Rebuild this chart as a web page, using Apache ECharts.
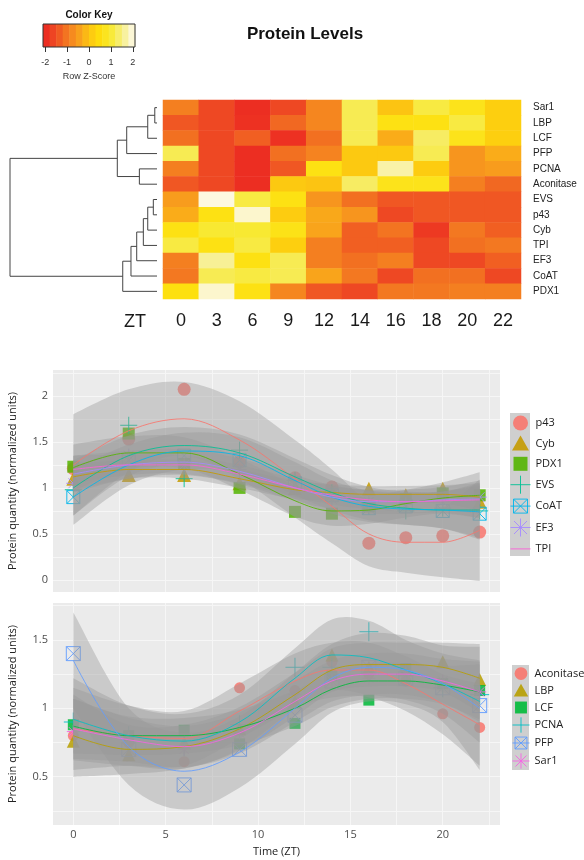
<!DOCTYPE html>
<html>
<head>
<meta charset="utf-8">
<title>Protein Levels</title>
<script src="https://cdn.jsdelivr.net/npm/echarts@6/dist/echarts.min.js"></script>
<style>
  html, body { margin: 0; padding: 0; background: #fff; }
  #chart { width: 584px; height: 860px; }
</style>
</head>
<body>
<div id="chart"></div>
<script>
// ---- heatmap data ----
const rows = ['Sar1', 'LBP', 'LCF', 'PFP', 'PCNA', 'Aconitase', 'EVS', 'p43', 'Cyb', 'TPI', 'EF3', 'CoAT', 'PDX1']
const zt = ['0', '3', '6', '9', '12', '14', '16', '18', '20', '22']
const zscores = [
  [-0.9, -1.6, -1.95, -1.6, -0.8, 1.2, 0.0, 1.1, 0.7, 0.2],
  [-1.4, -1.6, -1.9, -1.2, -0.8, 1.2, 0.6, 0.6, 1.1, 0.2],
  [-1.1, -1.6, -1.3, -1.9, -1.1, 1.2, -0.3, 1.3, 0.7, 0.2],
  [1.2, -1.6, -1.95, -1.1, -0.85, 0.1, 0.1, 1.2, -0.6, -0.3],
  [-0.9, -1.6, -1.95, -1.4, 0.6, 0.1, 1.7, 0.15, -0.6, -0.5],
  [-1.4, -1.6, -1.95, 0.1, 0.0, 1.3, 0.7, 0.7, -0.9, -1.2],
  [-0.5, 2.0, 1.1, 0.6, -0.6, -1.1, -1.4, -1.4, -1.4, -1.4],
  [-0.3, 0.6, 1.9, 0.15, -0.35, -0.6, -1.6, -1.4, -1.4, -1.4],
  [0.6, 1.0, 1.0, 0.65, -0.4, -1.3, -1.05, -1.8, -1.0, -1.3],
  [1.1, 0.6, 1.1, 0.2, -0.9, -1.3, -1.3, -1.6, -1.1, -1.0],
  [-0.9, 1.6, 0.6, 1.2, -0.9, -1.1, -0.9, -1.6, -1.6, -1.3],
  [-1.0, 1.2, 1.1, 1.2, -0.4, -1.0, -1.6, -1.1, -1.1, -1.6],
  [0.55, 1.9, 0.6, -0.8, -1.4, -1.6, -1.0, -1.0, -0.9, -0.9],
]
// row dendrogram: [left node, right node, height]; leaves are 0..12, merges get ids 13..
const dendroMerges = [
  [0, 1, 0.015], [13, 2, 0.063], [14, 3, 0.206], [4, 5, 0.12], [15, 16, 0.27],
  [6, 7, 0.025], [18, 8, 0.063], [19, 9, 0.093], [20, 10, 0.138], [21, 11, 0.177], [22, 12, 0.233],
  [17, 23, 1.0],
]
// colour key
const keyBreaks = [-2.1, -1.8, -1.5, -1.2, -0.9, -0.6, -0.3, 0, 0.3, 0.6, 0.9, 1.2, 1.5, 1.8, 2.1]
const keyTicks = [-2, -1, 0, 1, 2]

// ---- time course panels ----
const times = [0, 3, 6, 9, 12, 14, 16, 18, 20, 22]
const xGrid = [0, 2.5, 5, 7.5, 10, 12.5, 15, 17.5, 20, 22.5]
const xTickLabels = [0, 5, 10, 15, 20]
const y1Grid = [0, 0.25, 0.5, 0.75, 1, 1.25, 1.5, 1.75, 2, 2.25]
const y1TickLabels = [0, 0.5, 1, 1.5, 2]
const y2Grid = [0.25, 0.5, 0.75, 1, 1.25, 1.5, 1.75]
const y2TickLabels = [0.5, 1, 1.5]

const panel1Names = ['p43', 'Cyb', 'PDX1', 'EVS', 'CoAT', 'EF3', 'TPI']
const panel1Points = [
  [1.21, 1.53, 2.07, 1.28, 1.11, 1.01, 0.40, 0.46, 0.48, 0.52],
  [1.10, 1.14, 1.14, 1.05, 1.00, 0.96, 0.99, 0.92, 0.99, 0.85],
  [1.23, 1.59, 1.26, 1.00, 0.74, 0.72, 0.80, 0.88, 0.94, 0.92],
  [0.98, 1.68, 1.10, 1.41, 1.08, 0.95, 0.80, 0.75, 0.78, 0.75],
  [0.90, 1.30, 1.35, 1.30, 1.05, 0.92, 0.78, 0.80, 0.75, 0.72],
  [1.05, 1.35, 1.25, 1.20, 1.00, 0.88, 0.85, 0.82, 0.85, 0.90],
  [],
]
const panel1Fit = [
  [1.25, 1.62, 1.75, 1.52, 1.10, 0.80, 0.50, 0.41, 0.41, 0.54],
  [1.12, 1.20, 1.20, 1.10, 0.98, 0.95, 0.93, 0.93, 0.93, 0.90],
  [1.22, 1.38, 1.38, 1.15, 0.86, 0.75, 0.76, 0.83, 0.89, 0.92],
  [1.00, 1.35, 1.46, 1.38, 1.12, 0.95, 0.83, 0.78, 0.76, 0.76],
  [0.90, 1.25, 1.40, 1.35, 1.08, 0.90, 0.80, 0.77, 0.76, 0.74],
  [1.15, 1.25, 1.28, 1.18, 1.00, 0.90, 0.85, 0.85, 0.87, 0.88],
  [1.20, 1.25, 1.25, 1.15, 1.00, 0.92, 0.87, 0.85, 0.86, 0.87],
]
const panel1Se = [
  [0.55, 0.45, 0.40, 0.42, 0.42, 0.40, 0.35, 0.33, 0.38, 0.55],
  [0.15, 0.10, 0.10, 0.10, 0.10, 0.09, 0.09, 0.09, 0.10, 0.15],
  [0.25, 0.18, 0.17, 0.17, 0.17, 0.16, 0.15, 0.15, 0.17, 0.25],
  [0.30, 0.22, 0.20, 0.20, 0.20, 0.19, 0.18, 0.18, 0.20, 0.30],
  [0.30, 0.22, 0.20, 0.20, 0.20, 0.18, 0.17, 0.17, 0.20, 0.30],
  [0.20, 0.15, 0.14, 0.14, 0.14, 0.13, 0.13, 0.13, 0.14, 0.20],
  [0.15, 0.11, 0.10, 0.10, 0.10, 0.10, 0.10, 0.10, 0.10, 0.15],
]

const panel2Names = ['Aconitase', 'LBP', 'LCF', 'PCNA', 'PFP', 'Sar1']
const panel2Points = [
  [0.80, 0.75, 0.61, 1.15, 1.13, 1.34, 1.25, 1.20, 0.96, 0.86],
  [0.76, 0.66, 0.75, 0.85, 1.05, 1.39, 1.30, 1.28, 1.34, 1.21],
  [0.88, 0.80, 0.84, 0.74, 0.89, 1.24, 1.06, 1.29, 1.18, 1.13],
  [0.90, 0.80, 0.72, 0.88, 1.30, 1.30, 1.56, 1.25, 1.15, 1.10],
  [1.40, 0.70, 0.44, 0.70, 0.95, 1.20, 1.30, 1.22, 1.15, 1.02],
  [0.83, 0.78, 0.70, 0.82, 1.10, 1.20, 1.22, 1.25, 1.20, 1.12],
]
const panel2Fit = [
  [0.85, 0.80, 0.78, 0.98, 1.20, 1.28, 1.28, 1.18, 1.03, 0.88],
  [0.80, 0.70, 0.72, 0.85, 1.10, 1.28, 1.32, 1.32, 1.30, 1.22],
  [0.87, 0.80, 0.80, 0.86, 1.00, 1.14, 1.20, 1.20, 1.17, 1.12],
  [0.92, 0.80, 0.76, 0.90, 1.22, 1.39, 1.37, 1.28, 1.18, 1.05],
  [1.35, 0.72, 0.54, 0.68, 1.00, 1.22, 1.30, 1.28, 1.18, 1.00],
  [0.85, 0.77, 0.72, 0.82, 1.05, 1.20, 1.25, 1.25, 1.20, 1.12],
]
const panel2Se = [
  [0.30, 0.22, 0.20, 0.20, 0.20, 0.20, 0.20, 0.20, 0.22, 0.30],
  [0.30, 0.18, 0.16, 0.16, 0.16, 0.16, 0.16, 0.16, 0.18, 0.25],
  [0.20, 0.14, 0.13, 0.13, 0.13, 0.13, 0.13, 0.13, 0.14, 0.20],
  [0.30, 0.22, 0.20, 0.20, 0.22, 0.26, 0.27, 0.22, 0.22, 0.30],
  [0.35, 0.28, 0.28, 0.26, 0.26, 0.25, 0.25, 0.25, 0.28, 0.45],
  [0.22, 0.16, 0.15, 0.15, 0.15, 0.15, 0.15, 0.15, 0.16, 0.22],
]

// ---- styles ----
const heatPalette = ['#EC2A22', '#EF4F23', '#F37821', '#F89C1D', '#FCC412', '#FEDF0B', '#F8E932', '#F6EE84', '#FDF8DF']
const panel1Colors = ['#F8766D', '#C49A00', '#53B400', '#00C094', '#00B6EB', '#A58AFF', '#FB61D7']
const panel2Colors = ['#F8766D', '#B79F00', '#00BA38', '#00BFC4', '#619CFF', '#F564E3']
const panel1Shapes = ['circle', 'triangle', 'square', 'plus', 'squareX', 'asterisk', 'line']
const panel2Shapes = ['circle', 'triangle', 'square', 'plus', 'squareX', 'asterisk']
const FONT_HEAT = '"Liberation Sans", Arial, sans-serif'
const FONT_PLOT = '"Open Sans", sans-serif'
const PAD = 'path://M0,0M20,20'
const SHAPES = {
  circle: { symbol: 'circle', stroke: false, legend: PAD + 'M2.5,10A7.5,7.5,0,1,0,17.5,10A7.5,7.5,0,1,0,2.5,10Z' },
  triangle: { symbol: 'triangle', stroke: false, legend: PAD + 'M10,2L18.5,17L1.5,17Z' },
  square: { symbol: 'rect', stroke: false, legend: PAD + 'M3,3L17,3L17,17L3,17Z' },
  plus: { symbol: 'path://M5,0L5,10M0,5L10,5', stroke: true, legend: PAD + 'M0,10L20,10M10,1L10,19' },
  squareX: { symbol: 'path://M0,0L10,0L10,10L0,10ZM0,0L10,10M10,0L0,10', stroke: true, legend: PAD + 'M3,3L17,3L17,17L3,17ZM3,3L17,17M17,3L3,17M0,10L20,10' },
  asterisk: { symbol: 'path://M5,0L5,10M0,5L10,5M1.5,1.5L8.5,8.5M8.5,1.5L1.5,8.5', stroke: true, legend: PAD + 'M10,1L10,19M0,10L20,10M3.5,3.5L16.5,16.5M16.5,3.5L3.5,16.5' },
  line: { symbol: 'none', stroke: true, legend: PAD + 'M0,10L20,10' },
}
const panel1Sizes = { circle: 13, triangle: 14, square: 12, plus: 17, squareX: 13, asterisk: 14, line: 0 }
const panel2Sizes = { circle: 11, triangle: 13, square: 11, plus: 19, squareX: 14, asterisk: 13 }

// dendrogram node positions (row index / height)
const nodeY = rows.map((r, i) => i)
const nodeH = rows.map(() => 0)
dendroMerges.forEach(([a, b, h]) => {
  nodeY.push((nodeY[a] + nodeY[b]) / 2)
  nodeH.push(h)
})

const heatData = []
zscores.forEach((row, r) => row.forEach((v, c) => heatData.push([c, r, v])))
const keyData = keyBreaks.slice(0, -1).map((b, i) => [b, keyBreaks[i + 1], (b + keyBreaks[i + 1]) / 2])

function legendStyle(shape, color) {
  return SHAPES[shape].stroke
    ? { color: 'rgba(0,0,0,0)', borderColor: color, borderWidth: 1 }
    : { color: color, opacity: 0.9, borderWidth: 0 }
}

// cubic pieces through pixel points (Catmull-Rom style), used to draw the se ribbons
function curveThrough(pts) {
  let d = ''
  for (let k = 0; k < pts.length - 1; k++) {
    const p0 = pts[Math.max(k - 1, 0)]
    const p1 = pts[k]
    const p2 = pts[k + 1]
    const p3 = pts[Math.min(k + 2, pts.length - 1)]
    const c1 = [p1[0] + (p2[0] - p0[0]) / 6, p1[1] + (p2[1] - p0[1]) / 6]
    const c2 = [p2[0] - (p3[0] - p1[0]) / 6, p2[1] - (p3[1] - p1[1]) / 6]
    d += 'C' + c1.join(',') + ' ' + c2.join(',') + ' ' + p2.join(',')
  }
  return d
}

function panelSeries(gridIdx, names, pts, fit, se, colors, shapes, sizes) {
  const list = []
  names.forEach((name, i) => {
    const s = SHAPES[shapes[i]]
    list.push({
      type: 'scatter', name, xAxisIndex: gridIdx, yAxisIndex: gridIdx, silent: true, z: 2,
      symbol: s.symbol, symbolSize: sizes[shapes[i]],
      itemStyle: s.stroke
        ? { color: 'rgba(0,0,0,0)', borderColor: colors[i], borderWidth: 1, opacity: 0.9 }
        : { color: colors[i], opacity: 0.85 },
      data: pts[i].map((v, j) => [times[j], v]),
    })
  })
  // confidence ribbons, one path per protein, fit ± se
  list.push({
    type: 'custom', xAxisIndex: gridIdx, yAxisIndex: gridIdx, silent: true, z: 3, clip: true,
    data: names.map((n, i) => [times[0], fit[i][0], i]),
    renderItem: (params, api) => {
      const i = api.value(2)
      const up = times.map((t, j) => api.coord([t, fit[i][j] + se[i][j]]))
      const lo = times.map((t, j) => api.coord([t, fit[i][j] - se[i][j]])).reverse()
      const d = 'M' + up[0].join(',') + curveThrough(up) + 'L' + lo[0].join(',') + curveThrough(lo) + 'Z'
      return { type: 'path', shape: { pathData: d }, style: { fill: 'rgba(153,153,153,0.4)' } }
    },
  })
  names.forEach((name, i) => {
    list.push({
      type: 'line', xAxisIndex: gridIdx, yAxisIndex: gridIdx, silent: true, z: 4,
      smooth: 0.35, symbol: 'none', showSymbol: false,
      lineStyle: { color: colors[i], width: 1, opacity: 0.85 },
      data: fit[i].map((v, j) => [times[j], v]),
    })
  })
  return list
}

const plotText = { fontFamily: FONT_PLOT, fontSize: 11, color: '#4D4D4D' }
const gridLine = { show: true, lineStyle: { color: '#F6F6F6', width: 1 } }
const hidden = { show: false }

const chart = echarts.init(document.getElementById('chart'), null, { renderer: 'canvas' })
chart.setOption({
  animation: false,
  backgroundColor: '#ffffff',
  textStyle: { fontFamily: FONT_HEAT },
  grid: [
    { left: 43, top: 24, width: 92, height: 23, outerBoundsMode: 'none' },
    { left: 10, top: 100, width: 147, height: 199, outerBoundsMode: 'none' },
    { left: 163, top: 100, width: 358, height: 199, outerBoundsMode: 'none' },
    { left: 53, top: 370, width: 447, height: 222, show: true, backgroundColor: '#EBEBEB', borderWidth: 0, outerBoundsMode: 'none' },
    { left: 53, top: 603, width: 447, height: 222, show: true, backgroundColor: '#EBEBEB', borderWidth: 0, outerBoundsMode: 'none' },
  ],
  xAxis: [
    {
      gridIndex: 0, type: 'value', min: -2.1, max: 2.1,
      axisLine: hidden, splitLine: hidden,
      axisTick: { show: true, length: 5, customValues: keyTicks, lineStyle: { color: '#333' } },
      axisLabel: { customValues: keyTicks, fontSize: 9, color: '#333', margin: 11, fontFamily: FONT_HEAT },
      name: 'Row Z-Score', nameLocation: 'middle', nameGap: 25,
      nameTextStyle: { fontSize: 9, color: '#333', fontFamily: FONT_HEAT },
    },
    { gridIndex: 1, type: 'value', min: 0, max: 1, inverse: true, show: false },
    {
      gridIndex: 2, type: 'category', data: zt, position: 'bottom',
      axisLine: hidden, axisTick: hidden, splitLine: hidden,
      axisLabel: { fontSize: 18, color: '#1A1A1A', margin: 13, fontFamily: FONT_HEAT },
    },
    {
      gridIndex: 3, type: 'value', min: -1.1, max: 23.1,
      axisLine: hidden, axisLabel: hidden, splitLine: gridLine,
      axisTick: { show: false, customValues: xGrid },
    },
    {
      gridIndex: 4, type: 'value', min: -1.1, max: 23.1,
      axisLine: hidden, splitLine: gridLine,
      axisTick: { show: false, customValues: xGrid },
      axisLabel: Object.assign({ customValues: xTickLabels, margin: 4 }, plotText),
      name: 'Time (ZT)', nameLocation: 'middle', nameGap: 21,
      nameTextStyle: { fontFamily: FONT_PLOT, fontSize: 11, color: '#222' },
    },
  ],
  yAxis: [
    { gridIndex: 0, type: 'value', min: 0, max: 1, show: false },
    { gridIndex: 1, type: 'value', min: -0.5, max: 12.5, inverse: true, show: false },
    {
      gridIndex: 2, type: 'category', data: rows, inverse: true, position: 'right',
      axisLine: hidden, axisTick: hidden, splitLine: hidden,
      axisLabel: { fontSize: 10, color: '#222', margin: 12, fontFamily: FONT_HEAT },
    },
    {
      gridIndex: 3, type: 'value', min: -0.13, max: 2.28,
      axisLine: hidden, splitLine: gridLine,
      axisTick: { show: false, customValues: y1Grid },
      axisLabel: Object.assign({ customValues: y1TickLabels, margin: 5 }, plotText),
      name: 'Protein quantity (normalized units)', nameLocation: 'middle', nameGap: 35,
      nameTextStyle: { fontFamily: FONT_PLOT, fontSize: 11, color: '#222' },
    },
    {
      gridIndex: 4, type: 'value', min: 0.147, max: 1.77,
      axisLine: hidden, splitLine: gridLine,
      axisTick: { show: false, customValues: y2Grid },
      axisLabel: Object.assign({ customValues: y2TickLabels, margin: 5 }, plotText),
      name: 'Protein quantity (normalized units)', nameLocation: 'middle', nameGap: 35,
      nameTextStyle: { fontFamily: FONT_PLOT, fontSize: 11, color: '#222' },
    },
  ],
  visualMap: {
    type: 'continuous', show: false, min: -2, max: 2, dimension: 2,
    seriesIndex: [0, 1], inRange: { color: heatPalette },
  },
  legend: [
    {
      orient: 'vertical', left: 510, top: 413, padding: 0, itemWidth: 20, itemHeight: 20, itemGap: 0.4,
      selectedMode: false, textStyle: { fontFamily: FONT_PLOT, fontSize: 11, color: '#222' },
      data: panel1Names.map((n, i) => ({ name: n, icon: SHAPES[panel1Shapes[i]].legend, itemStyle: legendStyle(panel1Shapes[i], panel1Colors[i]) })),
    },
    {
      orient: 'vertical', left: 512, top: 665, padding: 0, itemWidth: 17, itemHeight: 17.5, itemGap: 0,
      selectedMode: false, textStyle: { fontFamily: FONT_PLOT, fontSize: 11, color: '#222' },
      data: panel2Names.map((n, i) => ({ name: n, icon: SHAPES[panel2Shapes[i]].legend, itemStyle: legendStyle(panel2Shapes[i], panel2Colors[i]) })),
    },
  ],
  graphic: [
    { type: 'rect', z: 0, shape: { x: 510, y: 413, width: 20, height: 143 }, style: { fill: '#CFCFCF' } },
    { type: 'rect', z: 0, shape: { x: 512, y: 665, width: 17, height: 105 }, style: { fill: '#CFCFCF' } },
    { type: 'rect', z: 10, shape: { x: 43, y: 24, width: 92, height: 23 }, style: { fill: 'none', stroke: '#333', lineWidth: 1 } },
    {
      type: 'text', x: 89, y: 15, z: 10,
      style: { text: 'Color Key', font: 'bold 10px "Liberation Sans", Arial', fill: '#111', textAlign: 'center', textVerticalAlign: 'middle', align: 'center', verticalAlign: 'middle' },
    },
    {
      type: 'text', x: 305, y: 34, z: 10,
      style: { text: 'Protein Levels', font: 'bold 17px "Liberation Sans", Arial', fill: '#111', textAlign: 'center', textVerticalAlign: 'middle', align: 'center', verticalAlign: 'middle' },
    },
    {
      type: 'text', x: 135, y: 322, z: 10,
      style: { text: 'ZT', font: '18px "Liberation Sans", Arial', fill: '#1A1A1A', textAlign: 'center', textVerticalAlign: 'middle', align: 'center', verticalAlign: 'middle' },
    },
  ],
  series: [
    {
      type: 'heatmap', xAxisIndex: 2, yAxisIndex: 2, data: heatData, silent: true,
      itemStyle: { borderWidth: 0 }, emphasis: { disabled: true },
    },
    {
      type: 'custom', xAxisIndex: 0, yAxisIndex: 0, data: keyData, silent: true,
      encode: { x: [0, 1] },
      renderItem: (params, api) => {
        const p0 = api.coord([api.value(0), 1])
        const p1 = api.coord([api.value(1), 0])
        return {
          type: 'rect',
          shape: { x: p0[0], y: p0[1], width: p1[0] - p0[0] + 0.5, height: p1[1] - p0[1] },
          style: { fill: api.visual('color') },
        }
      },
    },
    {
      type: 'custom', xAxisIndex: 1, yAxisIndex: 1, data: dendroMerges, silent: true,
      encode: { x: 2 },
      renderItem: (params, api) => {
        const a = api.value(0)
        const b = api.value(1)
        const h = api.value(2)
        return {
          type: 'polyline',
          shape: {
            points: [
              api.coord([nodeH[a], nodeY[a]]),
              api.coord([h, nodeY[a]]),
              api.coord([h, nodeY[b]]),
              api.coord([nodeH[b], nodeY[b]]),
            ],
          },
          style: { stroke: '#444', lineWidth: 1, fill: null },
        }
      },
    },
    ...panelSeries(3, panel1Names, panel1Points, panel1Fit, panel1Se, panel1Colors, panel1Shapes, panel1Sizes),
    ...panelSeries(4, panel2Names, panel2Points, panel2Fit, panel2Se, panel2Colors, panel2Shapes, panel2Sizes),
  ],
})
</script>
</body>
</html>
